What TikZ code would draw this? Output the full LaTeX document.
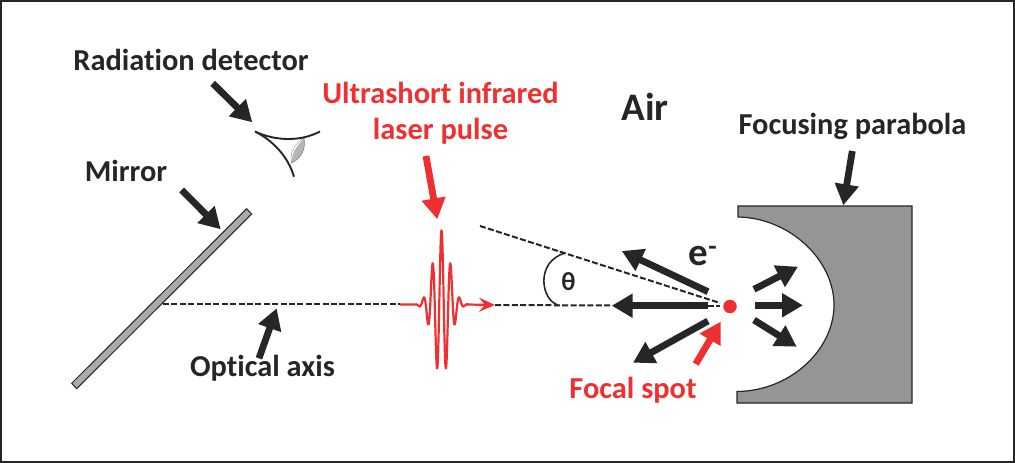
\documentclass[tikz,border=0pt]{standalone}
\usepackage{fontspec}
\setmainfont[Ligatures=NoCommon]{Carlito}
\usetikzlibrary{arrows.meta}
\definecolor{ink}{HTML}{262626}
\definecolor{hot}{HTML}{EE3130}
\definecolor{steel}{HTML}{959595}
\tikzset{
 x=1pt,y=-1pt,
 lab/.style={inner sep=0pt,anchor=base,font=\bfseries\fontsize{30.4}{30.4}\selectfont,text=ink},
 redlab/.style={lab,text=hot},
 fat/.style={draw=ink,line width=6.8pt,-{Triangle[length=21pt,width=23pt]}},
 fatred/.style={fat,draw=hot},
 axis/.style={draw=ink,line width=2pt,dash pattern=on 6pt off 2.4pt},
 thin line/.style={draw=ink,line width=1.9pt},
}
\begin{document}
\begin{tikzpicture}
\useasboundingbox (0,0) rectangle (1015,463);
\draw[draw=ink,line width=1.6pt] (1,1) rectangle (1014,462);
% coordinates
\coordinate (mA) at (163,304);
\coordinate (mB) at (400,304);
\coordinate (pB) at (495,305);
\coordinate (pC) at (612,305.5);
\coordinate (pD) at (708,305.5);
\coordinate (cA) at (480,226);
\coordinate (cB) at (720,303);
% parabola
\path[fill=steel,draw=ink,line width=1.2pt] (738,206) -- (912,206) -- (912,403) -- (737,403) -- (737,391.5)
  .. controls (790,391) and (834,350) .. (834,305)
  .. controls (834,260) and (790,218) .. (738,217) -- cycle;
% mirror
\path[fill=steel!80,draw=ink,line width=1pt] (246.7,208.7) -- (251.7,214) -- (76.7,388.7) -- (71.7,383.3) -- cycle;
% detector
\path[fill=steel!70,draw=ink!60,line width=.5pt] (304,138) .. controls (294,144) and (289,155) .. (291.7,163) .. controls (302,158) and (306,148) .. (304,138) -- cycle;
\path[fill=white] (303,139) .. controls (295,144) and (290,153) .. (291.7,161) .. controls (292,152) and (297,146) .. (303,139) -- cycle;
\draw[thin line] (255,131.5) .. controls (275,141) and (300,142) .. (320,131.5);
\draw[thin line] (255,131.5) .. controls (272,140) and (288,156) .. (294,176.7);
% dashed
\draw[axis] (mA) -- (mB);
\draw[axis] (pB) -- (pC);
\draw[axis] (pD) -- (cB |- pD);
\draw[axis] (cA) -- (cB);
\draw[draw=ink,line width=1.6pt] (565,253) .. controls (535,262) and (541,300) .. (558,305);
% pulse
\draw[hot,line width=2.2pt,line join=round] (400,304.5) -- (416,304.5)
  plot[domain=416:468,samples=260,smooth] (\x,{304.5-74*exp(-(\x-441.5)*(\x-441.5)/135)*cos(40*(\x-441.5))});
\draw[hot,line width=2.2pt,-{Stealth[length=16pt,width=14pt,inset=6pt]}] (467,304.5) -- (pB);
% spot
\node[circle,fill=hot,minimum size=13.5pt,inner sep=0pt] (spot) at (730,306.5) {};
% arrows
\draw[fat] (212.7,83.3) -- (252.3,122.3);
\draw[fat] (181.7,190) -- (220.7,229.3);
\draw[fat] (259,358.3) -- (276.7,308.3);
\draw[fat] (852.3,151) -- (843.3,205.3);
\draw[fatred] (426,156) -- (437.3,219.3);
\draw[fat] (708,291.7) -- (621.7,251);
\draw[fat] (708,305.7) -- (611.7,305.7);
\draw[fat] (708,321) -- (633,362.7);
\draw[fat] (754,289.3) -- (798,266.7);
\draw[fat] (755,305.3) -- (803,305.3);
\draw[fat] (754,320) -- (796.7,346.7);
\draw[fatred] (695.7,364) -- (720.7,321.7);
% text
\node[lab] (t1) at (191,70) {Radiation detector};
\node[lab] (t2) at (126,181.7) {Mirror};
\node[lab] (t3) at (262.5,376.7) {Optical axis};
\node[redlab] (t4) at (440.5,103) {Ultrashort infrared};
\node[redlab] (t5) at (440.5,139) {laser pulse};
\node[lab,font=\bfseries\fontsize{39}{39}\selectfont] (t6) at (645,120) {Air};
\node[lab] (t7) at (852.5,134.7) {Focusing parabola};
\node[redlab] (t8) at (633,398) {Focal spot};
\node[lab,font=\bfseries\fontsize{39}{39}\selectfont] (t9) at (703,265) {e\textsuperscript{-}};
\node[lab,font=\bfseries\fontsize{26}{26}\selectfont] (t10) at (568.5,290) {θ};
\end{tikzpicture}
\end{document}
